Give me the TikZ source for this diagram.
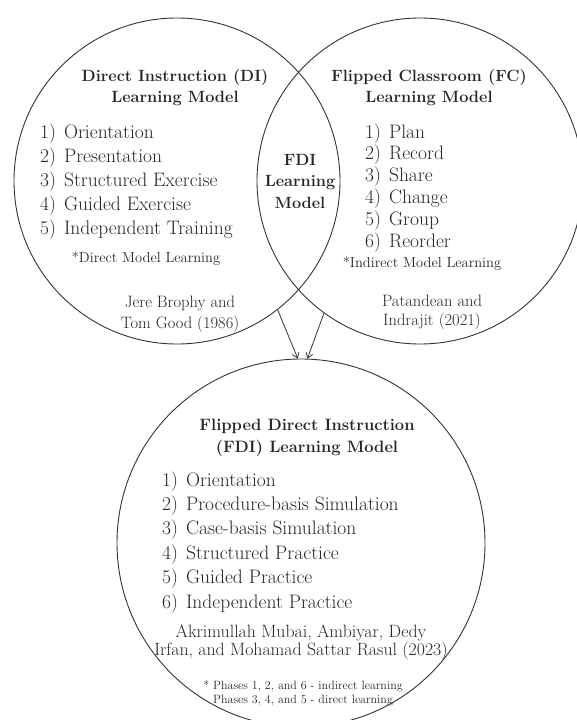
\documentclass[tikz,border=0pt]{standalone}
\usepackage{tikz}
\usetikzlibrary{arrows.meta}
\definecolor{Ink}{HTML}{262626}
\definecolor{Rim}{HTML}{333333}

\begin{document}
\begin{tikzpicture}[x=1pt,y=-1pt,text=Ink,
  ring/.style={circle,draw=Rim,line width=0.9pt,inner sep=0pt},
  head/.style={font=\fontsize{16.3}{21}\selectfont\bfseries,align=center,anchor=base,inner sep=0pt},
  items/.style={anchor=base west,inner sep=0pt},
  note/.style={font=\fontsize{14.5}{16}\selectfont,anchor=base,inner sep=0pt},
  cite/.style={font=\fontsize{16.5}{21}\selectfont,align=center,anchor=base,inner sep=0pt},
  flow/.style={draw=Rim,line width=0.8pt,-{Straight Barb[length=5pt,width=7pt]}}]
\useasboundingbox (0,0) rectangle (577,720);
\clip (0,0) rectangle (577,720);

% the two source models and the combined one
\node[ring,minimum size=326pt] (di) at (177,181) {};
\node[ring,minimum size=326pt] (fc) at (420,181) {};
\node[ring,minimum size=368pt] (fdi) at (301,543) {};

% multi-line nodes sit on the baseline of their last line
\node[head] (dititle) at (175,102) {Direct Instruction (DI)\\Learning Model};
\node[items] (dilist) at (40,138) {\fontsize{19.5}{24}\selectfont
  \begin{tabular}[t]{@{}l@{\hspace{8pt}}l@{}}
  1) & Orientation\\
  2) & Presentation\\
  3) & Structured Exercise\\
  4) & Guided Exercise\\
  5) & Independent Training
  \end{tabular}};
\node[note] (dinote) at (146,262) {*Direct Model Learning};
\node[cite] (dicite) at (180,328) {Jere Brophy and\\Tom Good (1986)};

\node[head] (fctitle) at (429,102) {Flipped Classroom (FC)\\Learning Model};
\node[items] (fclist) at (365,138) {\fontsize{19.5}{21.8}\selectfont
  \begin{tabular}[t]{@{}l@{\hspace{8pt}}l@{}}
  1) & Plan\\
  2) & Record\\
  3) & Share\\
  4) & Change\\
  5) & Group\\
  6) & Reorder
  \end{tabular}};
\node[note] (fcnote) at (422,267) {*Indirect Model Learning};
\node[cite,font=\fontsize{16.5}{18.5}\selectfont] (fccite) at (432,325) {Patandean and\\Indrajit (2021)};

% overlap
\node[head,font=\fontsize{16.3}{21.5}\selectfont\bfseries] (overlap) at (300,208) {FDI\\Learning\\Model};

\node[head,font=\fontsize{16.5}{22}\selectfont\bfseries] (fdititle) at (307,452) {Flipped Direct Instruction\\(FDI) Learning Model};
\node[items] (fdilist) at (162,486) {\fontsize{19.5}{24.4}\selectfont
  \begin{tabular}[t]{@{}l@{\hspace{8pt}}l@{}}
  1) & Orientation\\
  2) & Procedure-basis Simulation\\
  3) & Case-basis Simulation\\
  4) & Structured Practice\\
  5) & Guided Practice\\
  6) & Independent Practice
  \end{tabular}};
\node[cite,font=\fontsize{17.8}{17.5}\selectfont] (fdicite) at (301,655) {Akrimullah Mubai, Ambiyar, Dedy\\Irfan, and Mohamad Sattar Rasul (2023)};
\node[note,font=\fontsize{12}{14}\selectfont,align=center] (fdinote) at (303,703) {* Phases 1, 2, and 6 - indirect learning\\Phases 3, 4, and 5 - direct learning};

\draw[flow] (di.-52.6) -- (fdi.91.5);
\draw[flow] (fc.-126.3) -- (fdi.88.5);
\end{tikzpicture}
\end{document}
